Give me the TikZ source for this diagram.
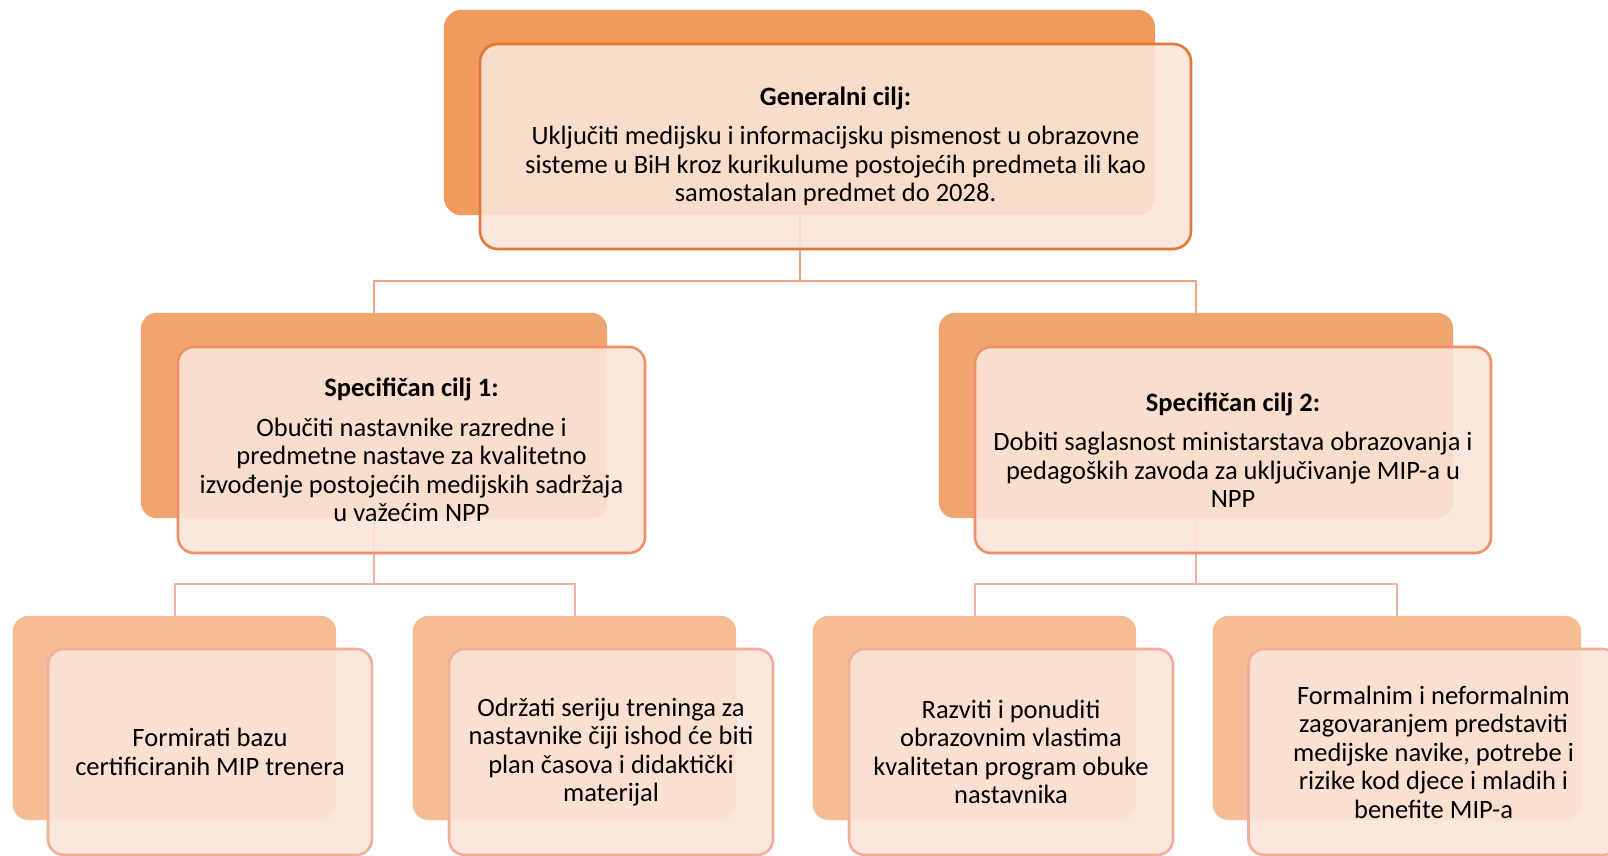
\documentclass[tikz,border=0pt]{standalone}
\usepackage{fontspec}
\setmainfont{Carlito}
\definecolor{topback}{HTML}{F09A5B}
\definecolor{midback}{HTML}{F0A571}
\definecolor{lowback}{HTML}{F5BC95}
\definecolor{topedge}{HTML}{E2773A}
\definecolor{midedge}{HTML}{EE8F65}
\definecolor{lowedge}{HTML}{F2AE98}
\definecolor{frontfill}{HTML}{FBE5D8}
\definecolor{conntop}{HTML}{EFA07F}
\definecolor{connlow}{HTML}{F2B4A0}
\tikzset{
  backbox/.style={rectangle, inner sep=0pt, draw=none},
  frontbox/.style={rectangle, rounded corners=16pt, inner sep=0pt, fill=frontfill, fill opacity=0.9, text opacity=1, line width=2.6pt, align=center, font=\fontsize{26.5}{28.5}\selectfont},
  conna/.style={draw=conntop, line width=2pt},
  connb/.style={draw=connlow, line width=2pt},
}
\begin{document}
\begin{tikzpicture}[x=1pt,y=-1pt]
\clip (0,0) rectangle (1608,856);
\fill[white] (0,0) rectangle (1608,856);
% back boxes (positions)
\node[backbox, minimum width=711pt, minimum height=205pt] (tb) at (799.5,112.5) {};
\node[backbox, minimum width=466pt, minimum height=205pt] (lb) at (374,415.5) {};
\node[backbox, minimum width=514pt, minimum height=205pt] (rb) at (1196,415.5) {};
\node[backbox, minimum width=323pt, minimum height=204pt] (ab) at (174.5,718) {};
\node[backbox, minimum width=323pt, minimum height=204pt] (bb) at (574.5,718) {};
\node[backbox, minimum width=323pt, minimum height=204pt] (cb) at (974.5,718) {};
\node[backbox, minimum width=368pt, minimum height=204pt] (db) at (1397,718) {};
% connectors
\coordinate (j0) at (799.5,281);
\coordinate (j1) at (374,584);
\coordinate (j2) at (1196,584);
\draw[conna] (tb.south) -- (j0) -| (lb.north);
\draw[conna] (j0) -| (rb.north);
\draw[connb] (lb.south) -- (j1) -| (ab.north);
\draw[connb] (j1) -| (bb.north);
\draw[connb] (rb.south) -- (j2) -| (cb.north);
\draw[connb] (j2) -| (db.north);
% back box fills
\fill[topback, rounded corners=18pt] (tb.north west) rectangle (tb.south east);
\fill[midback, rounded corners=16pt] (lb.north west) rectangle (lb.south east);
\fill[midback, rounded corners=16pt] (rb.north west) rectangle (rb.south east);
\fill[lowback, rounded corners=16pt] (ab.north west) rectangle (ab.south east);
\fill[lowback, rounded corners=16pt] (bb.north west) rectangle (bb.south east);
\fill[lowback, rounded corners=16pt] (cb.north west) rectangle (cb.south east);
\fill[lowback, rounded corners=16pt] (db.north west) rectangle (db.south east);
% front boxes
\node[frontbox, draw=topedge, rounded corners=18pt, minimum width=711pt, minimum height=205pt] (tf) at (835.5,146.5)
  {\textbf{Generalni cilj:}\\[11pt]
   Uključiti medijsku i informacijsku pismenost u obrazovne\\
   sisteme u BiH kroz kurikulume postojećih predmeta ili kao\\
   samostalan predmet do 2028.};
\node[frontbox, draw=midedge, minimum width=467pt, minimum height=206pt] (lf) at (411.5,450)
  {\textbf{Specifičan cilj 1:}\\[11pt]
   Obučiti nastavnike razredne i\\
   predmetne nastave za kvalitetno\\
   izvođenje postojećih medijskih sadržaja\\
   u važećim NPP};
\node[frontbox, draw=midedge, minimum width=516pt, minimum height=206pt] (rf) at (1233,450)
  {\textbf{Specifičan cilj 2:}\\[11pt]
   Dobiti saglasnost ministarstava obrazovanja i\\
   pedagoških zavoda za uključivanje MIP-a u\\
   NPP};
\node[frontbox, draw=lowedge, minimum width=324pt, minimum height=206pt] (af) at (210,752)
  {Formirati bazu\\ certificiranih MIP trenera};
\node[frontbox, draw=lowedge, minimum width=324pt, minimum height=206pt] (bf) at (611,752)
  {Održati seriju treninga za\\ nastavnike čiji ishod će biti\\ plan časova i didaktički\\ materijal};
\node[frontbox, draw=lowedge, minimum width=324pt, minimum height=206pt] (cf) at (1011,752)
  {Razviti i ponuditi\\ obrazovnim vlastima\\ kvalitetan program obuke\\ nastavnika};
\node[frontbox, draw=lowedge, minimum width=370pt, minimum height=206pt] (df) at (1433.5,752)
  {Formalnim i neformalnim\\ zagovaranjem predstaviti\\ medijske navike, potrebe i\\ rizike kod djece i mladih i\\ benefite MIP-a};
\end{tikzpicture}
\end{document}
